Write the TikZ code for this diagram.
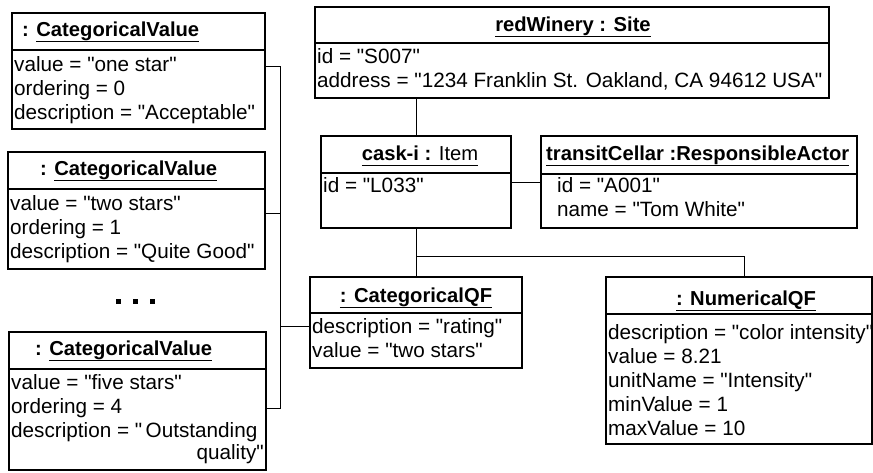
\documentclass[tikz,border=0pt]{standalone}
\usepackage{fontspec}
\setmainfont{Liberation Sans}[Ligatures=TeXOff]
\newcommand\myul[1]{\setbox0\hbox{#1}\rlap{\rule[-6pt]{\wd0}{1.3pt}}\box0}
\tikzset{
  objbox/.style={draw, line width=1.6pt, inner sep=0pt, outer sep=0pt, anchor=north west},
  divline/.style={line width=1.4pt},
  conn/.style={line width=1pt},
  attr/.style={font=\fontsize{20.7}{24}\selectfont, inner sep=0pt, anchor=base west},
  ttl/.style={font=\bfseries\fontsize{20.2}{22}\selectfont, inner sep=0pt},
}
\begin{document}
\begin{tikzpicture}[x=1pt,y=-1pt]
\useasboundingbox (0,0) rectangle (873,472);

% ---------- boxes ----------
\node[objbox, minimum width=253pt, minimum height=116pt] (cv1) at (12,13) {};
\node[objbox, minimum width=257pt, minimum height=117pt] (cv2) at (8,152) {};
\node[objbox, minimum width=257pt, minimum height=138pt] (cv3) at (9,332) {};
\node[objbox, minimum width=514pt, minimum height=91pt] (site) at (315,7) {};
\node[objbox, minimum width=190pt, minimum height=92pt] (cask) at (321,136) {};
\node[objbox, minimum width=316pt, minimum height=92pt] (tc) at (541,136) {};
\node[objbox, minimum width=212pt, minimum height=91pt] (cqf) at (310,277) {};
\node[objbox, minimum width=266pt, minimum height=167pt] (nqf) at (606,277) {};

% ---------- dividers ----------
\draw[divline] (cv1.west |- 0,50) -- (cv1.east |- 0,50);
\draw[divline] (cv2.west |- 0,189) -- (cv2.east |- 0,189);
\draw[divline] (cv3.west |- 0,369) -- (cv3.east |- 0,369);
\draw[divline] (site.west |- 0,43) -- (site.east |- 0,43);
\draw[divline] (cask.west |- 0,173) -- (cask.east |- 0,173);
\draw[divline] (tc.west |- 0,174) -- (tc.east |- 0,174);
\draw[divline] (cqf.west |- 0,313) -- (cqf.east |- 0,313);
\draw[divline] (nqf.west |- 0,314) -- (nqf.east |- 0,314);

% ---------- titles ----------
\node[ttl, anchor=base west] (cv1t) at (22,36) {: \myul{CategoricalValue}};
\node[ttl, anchor=base west] (cv2t) at (40,175) {: \myul{CategoricalValue}};
\node[ttl, anchor=base west] (cv3t) at (35,355) {: \myul{CategoricalValue}};
\node[ttl, anchor=base] (sitet) at (573,31) {\myul{redWinery : Site}};
\node[ttl, anchor=base] (caskt) at (420,160) {\myul{cask-i : \mdseries Item}};
\node[ttl, anchor=base west] (tct) at (546,160) {\myul{transitCellar :ResponsibleActor}};
\node[ttl, anchor=base] (cqft) at (416,302) {\myul{: CategoricalQF}};
\node[ttl, anchor=base] (nqft) at (746,305) {\myul{: NumericalQF}};

% ---------- attributes ----------
\node[attr] (cv1a) at (14,71) {value = "one star"};
\node[attr] (cv1b) at (14,95) {ordering = 0};
\node[attr] (cv1c) at (14,119) {description = "Acceptable"};

\node[attr] (cv2a) at (10,210) {value = "two stars"};
\node[attr] (cv2b) at (10,234) {ordering = 1};
\node[attr] (cv2c) at (10,258) {description = "Quite Good"};

\node[attr] (cv3a) at (11,389) {value = "five stars"};
\node[attr] (cv3b) at (11,413) {ordering = 4};
\node[attr] (cv3c) at (11,437) {description = "\,Outstanding};
\node[attr, anchor=base east] (cv3d) at (264,459) {quality"};

\node[attr] (sitea) at (317,63) {id = "S007"};
\node[attr] (siteb) at (317,87) {address = "1234 Franklin St. Oakland, CA 94612 USA"};

\node[attr] (caska) at (323,192) {id = "L033"};

\node[attr] (tca) at (557,192) {id = "A001"};
\node[attr] (tcb) at (557,216) {name = "Tom White"};

\node[attr] (cqfa) at (312,333) {description = "rating"};
\node[attr] (cqfb) at (312,357) {value = "two stars"};

\node[attr] (nqfa) at (608,339) {description = "color intensity"};
\node[attr] (nqfb) at (608,363) {value = 8.21};
\node[attr] (nqfc) at (608,387) {unitName = "Intensity"};
\node[attr] (nqfd) at (608,411) {minValue = 1};
\node[attr] (nqfe) at (608,435) {maxValue = 10};

% ---------- ellipsis ----------
\fill (115.5,298.5) rectangle ++(5,5);
\fill (132.5,298.5) rectangle ++(5,5);
\fill (149.5,298.5) rectangle ++(5,5);

% ---------- connectors ----------
\coordinate (bus) at (280,326);
\coordinate (j) at (416,256);
\draw[conn] ([yshift=5pt]cv1.east) -| (bus);
\draw[conn] ([yshift=-2.5pt]cv2.east) -| (bus);
\draw[conn] ([yshift=-7pt]cv3.east) -| (bus);
\draw[conn] (bus) -- (bus -| cqf.west);
\draw[conn] (cask.north) -- (cask.north |- site.south);
\draw[conn] (cask.east) -- (tc.west);
\draw[conn] (cask.south) -- (cqf.north);
\draw[conn] (j) -| ([xshift=5pt]nqf.north);
\end{tikzpicture}
\end{document}
